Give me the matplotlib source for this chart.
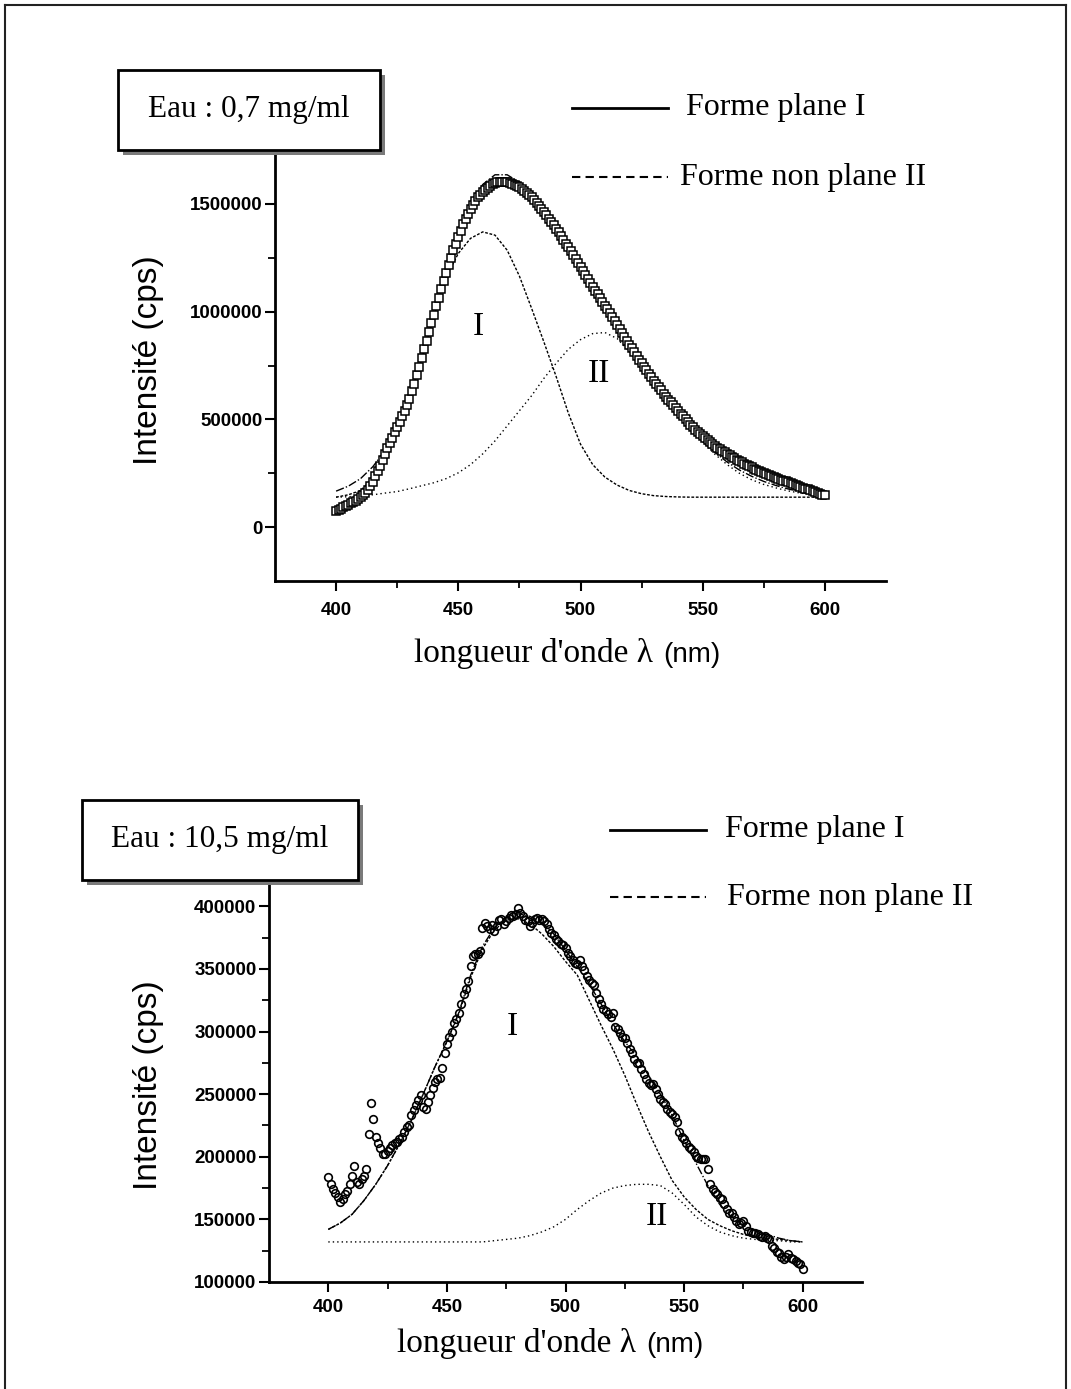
import matplotlib.pyplot as plt
import numpy as np
from matplotlib.patches import Rectangle
from matplotlib.lines import Line2D

plt.rcParams['font.family'] = ['Liberation Sans', 'DejaVu Sans']
SERIF = ['Liberation Serif', 'DejaVu Serif']
SANS = ['Liberation Sans', 'DejaVu Sans']

# ---------------- data (intensities in thousands of cps) ----------------
wl_top = np.arange(400, 601, 1)
top_data_k = [
    77, 81, 86, 92, 98, 104, 110, 116, 122, 130,
    140, 150, 160, 174, 190, 211, 235, 260, 285, 312,
    340, 365, 390, 415, 440, 465, 490, 515, 540, 567,
    595, 630, 665, 705, 745, 785, 825, 865, 905, 945,
    985, 1025, 1065, 1103, 1140, 1178, 1215, 1250, 1285, 1315,
    1345, 1375, 1405, 1430, 1455, 1475, 1495, 1513, 1530, 1543,
    1555, 1565, 1575, 1583, 1590, 1595, 1600, 1602, 1603, 1602,
    1600, 1597, 1593, 1588, 1583, 1577, 1570, 1561, 1552, 1542,
    1532, 1519, 1505, 1492, 1478, 1463, 1448, 1432, 1416, 1401,
    1385, 1368, 1350, 1333, 1315, 1298, 1280, 1261, 1242, 1224,
    1205, 1187, 1168, 1150, 1132, 1115, 1097, 1080, 1062, 1045,
    1027, 1010, 992, 974, 955, 937, 918, 900, 882, 864,
    846, 829, 811, 794, 777, 760, 743, 727, 711, 696,
    680, 665, 650, 635, 620, 606, 592, 579, 565, 553,
    540, 527, 514, 501, 488, 476, 464, 453, 442, 432,
    421, 412, 402, 394, 385, 377, 369, 362, 354, 347,
    340, 333, 326, 320, 313, 307, 300, 294, 288, 283,
    277, 272, 267, 262, 257, 252, 247, 243, 238, 234,
    229, 225, 220, 216, 212, 208, 203, 199, 195, 191,
    187, 183, 179, 175, 171, 167, 163, 159, 155, 151,
    147]

wl_fit = np.arange(400, 601, 5)
top_fit_k = [167, 190, 225, 280, 355, 460, 600, 780, 975, 1175,
             1360, 1500, 1590, 1635, 1635, 1600, 1545, 1470, 1390, 1300,
             1210, 1115, 1025, 935, 845, 760, 678, 598, 525, 458,
             398, 347, 302, 265, 236, 212, 193, 177, 164, 153, 145]
top_form1_k = [139, 150, 170, 225, 320, 445, 630, 820, 1010, 1160,
               1270, 1340, 1370, 1355, 1285, 1165, 1015, 860, 700, 530,
               385, 290, 232, 195, 170, 155, 146, 142, 140, 139,
               139, 139, 139, 139, 139, 139, 139, 139, 139, 139, 139]
top_form2_k = [139, 141, 144, 150, 158, 165, 178, 192, 206, 225,
               252, 290, 340, 400, 470, 540, 610, 690, 760, 825,
               870, 898, 903, 875, 815, 740, 655, 585, 520, 455,
               395, 338, 290, 250, 220, 198, 182, 168, 158, 151, 147]

wl_bot = np.arange(400, 601, 1)
bot_data_k = [
    184, 178, 174, 171, 168, 164, 166, 170, 173, 178,
    185, 193, 180, 178, 182, 185, 190, 218, 243, 230,
    216, 211, 207, 202, 202, 205, 207, 209, 211, 212,
    214, 216, 220, 224, 225, 233, 237, 241, 245, 249,
    240, 238, 244, 249, 255, 260, 262, 263, 271, 283,
    290, 296, 300, 307, 310, 315, 322, 330, 334, 340,
    352, 360, 362, 362, 364, 383, 387, 384, 382, 385,
    380, 384, 389, 390, 386, 388, 391, 393, 392, 394,
    399, 395, 392, 389, 388, 384, 387, 390, 391, 389,
    390, 388, 386, 382, 379, 377, 374, 372, 370, 369,
    367, 363, 360, 357, 355, 354, 357, 352, 349, 344,
    341, 339, 337, 331, 326, 322, 318, 316, 314, 312,
    315, 304, 302, 299, 296, 295, 291, 286, 283, 278,
    275, 275, 270, 266, 262, 259, 257, 258, 254, 250,
    246, 244, 242, 238, 236, 234, 232, 228, 220, 216,
    214, 211, 208, 206, 204, 201, 199, 198, 198, 198,
    190, 178, 174, 172, 170, 167, 166, 162, 158, 155,
    155, 152, 149, 146, 147, 149, 145, 141, 140, 139,
    139, 138, 137, 136, 137, 135, 134, 129, 127, 124,
    123, 120, 118, 120, 122, 119, 118, 117, 115, 114,
    110]
bot_fit_k = [142, 147, 154, 165, 178, 193, 210, 229, 250, 272,
             292, 315, 345, 368, 383, 391, 394, 392, 387, 378,
             365, 352, 338, 322, 306, 292, 280, 265, 250, 233,
             213, 195, 177, 162, 152, 145, 141, 138, 135, 133, 132]
bot_form1_k = [142, 147, 154, 165, 178, 193, 210, 229, 250, 272,
               292, 314, 343, 366, 381, 389, 390, 386, 378, 368,
               356, 345, 325, 305, 286, 265, 242, 220, 200, 181,
               168, 158, 150, 145, 141, 138, 136, 135, 134, 133, 132]
bot_form2_k = [132, 132, 132, 132, 132, 132, 132, 132, 132, 132,
               132, 132, 132, 132, 133, 134, 135, 137, 140, 144,
               150, 158, 165, 171, 175, 177, 178, 178, 177, 171,
               162, 152, 145, 140, 137, 135, 134, 133, 133, 132, 132]

top_yticks = [0, 500000, 1000000, 1500000]
bot_yticks = [100000, 150000, 200000, 250000, 300000, 350000, 400000]
xticks = [400, 450, 500, 550, 600]

# ---------------- figure ----------------
W, H = 1071, 1389
fig = plt.figure(figsize=(W / 100, H / 100), dpi=100)


def fx(x):
    return x / W


def fy(y):
    return 1 - y / H


def style_axes(ax, yticks, yminor, xpad):
    for s in ['top', 'right']:
        ax.spines[s].set_visible(False)
    for s in ['left', 'bottom']:
        ax.spines[s].set_linewidth(2.0)
    ax.set_xticks(xticks)
    ax.set_xticks([425, 475, 525, 575], minor=True)
    ax.set_yticks(yticks)
    ax.set_yticks(yminor, minor=True)
    ax.set_xticklabels([str(v) for v in xticks], fontweight='bold', fontsize=13.5)
    ax.set_yticklabels([str(v) for v in yticks], fontweight='bold', fontsize=13.5)
    ax.tick_params(which='major', direction='out', length=7, width=1.5)
    ax.tick_params(which='minor', direction='out', length=5, width=1.3)
    ax.tick_params(axis='x', pad=xpad)
    ax.tick_params(axis='y', pad=2)
    ax.patch.set_alpha(0)


def k(vals):
    return np.array(vals) * 1000


fit_style = dict(color='black', lw=1.0, ls=(0, (6, 1.5, 1, 1.5)))
f1_style = dict(color='black', lw=1.0, ls=(0, (2, 1.2)))
f2_style = dict(color='black', lw=1.0, ls=(0, (1, 2.2)))

# top panel
ax1 = fig.add_axes([fx(275), fy(581), fx(886 - 275), (581 - 150) / H])
ax1.set_xlim(375, 625)
ax1.set_ylim(-250000, 1750000)
ax1.plot(wl_fit, k(top_fit_k), **fit_style)
ax1.plot(wl_fit, k(top_form1_k), **f1_style)
ax1.plot(wl_fit, k(top_form2_k), **f2_style)
ax1.plot(wl_top, k(top_data_k), ls='none', marker='s', ms=5.5,
         mfc='white', mec='black', mew=1.1)
ax1.text(458, 928000, 'I', family=SERIF, fontsize=24, ha='center', va='center')
ax1.text(507.5, 714000, 'II', family=SERIF, fontsize=24, ha='center', va='center')
style_axes(ax1, top_yticks, [250000, 750000, 1250000], 8)

# bottom panel
ax2 = fig.add_axes([fx(269), fy(1282), fx(862 - 269), (1282 - 880) / H])
ax2.set_xlim(375, 625)
ax2.set_ylim(100000, 421000)
ax2.plot(wl_fit, k(bot_fit_k), **fit_style)
ax2.plot(wl_fit, k(bot_form1_k), **f1_style)
ax2.plot(wl_fit, k(bot_form2_k), **f2_style)
ax2.plot(wl_bot, k(bot_data_k), ls='none', marker='o', ms=5.5,
         mfc='none', mec='black', mew=1.2)
ax2.text(477.5, 304000, 'I', family=SERIF, fontsize=24, ha='center', va='center')
ax2.text(538.6, 152000, 'II', family=SERIF, fontsize=24, ha='center', va='center')
style_axes(ax2, bot_yticks, [125000, 175000, 225000, 275000, 325000, 375000], 5)

# axis labels
for yc in (360, 1085):
    fig.text(fx(148), fy(yc), 'Intensité (cps)', rotation=90, family=SANS,
             fontsize=24, ha='center', va='center')
for xr, yb in ((653, 662), (636, 1352)):
    fig.text(fx(xr), fy(yb), "longueur d'onde λ", family=SERIF, fontsize=24,
             ha='right', va='baseline')
    fig.text(fx(xr + 10), fy(yb), '(nm)', family=SANS, fontsize=20,
             ha='left', va='baseline')


# concentration boxes with shadow
def conc_box(x0, y0, w, h, label):
    fig.add_artist(Rectangle((fx(x0 + 5), fy(y0 + h + 5)), w / W, h / H,
                             transform=fig.transFigure, facecolor='#7a7a7a',
                             edgecolor='none'))
    fig.add_artist(Rectangle((fx(x0), fy(y0 + h)), w / W, h / H,
                             transform=fig.transFigure, facecolor='white',
                             edgecolor='black', lw=2.0))
    fig.text(fx(x0 + w / 2), fy(y0 + h / 2), label, family=SERIF, fontsize=22.5,
             ha='center', va='center')


conc_box(118, 70, 262, 80, 'Eau : 0,7 mg/ml')
conc_box(82, 800, 276, 80, 'Eau : 10,5 mg/ml')


# legends
def legend_row(x0, x1, y, dashed, xt, label):
    ls = (0, (4, 2.5)) if dashed else '-'
    lw = 1.5 if dashed else 2.0
    fig.add_artist(Line2D([fx(x0), fx(x1)], [fy(y), fy(y)], transform=fig.transFigure,
                          color='black', lw=lw, ls=ls))
    fig.text(fx(xt), fy(y), label, family=SERIF, fontsize=23, ha='left', va='center')


legend_row(572, 668, 108, False, 686, 'Forme plane I')
legend_row(572, 668, 177, True, 680, 'Forme non plane II')
legend_row(610, 706, 830, False, 725, 'Forme plane I')
legend_row(610, 706, 897, True, 727, 'Forme non plane II')

# page frame
for xs, ys in (([5, 5], [1389, 5]), ([5, 1066], [5, 5]), ([1066, 1066], [5, 1389])):
    fig.add_artist(Line2D([fx(v) for v in xs], [fy(v) for v in ys],
                          transform=fig.transFigure, color='#222222', lw=1.5))

fig.savefig('out.png', dpi=100)
